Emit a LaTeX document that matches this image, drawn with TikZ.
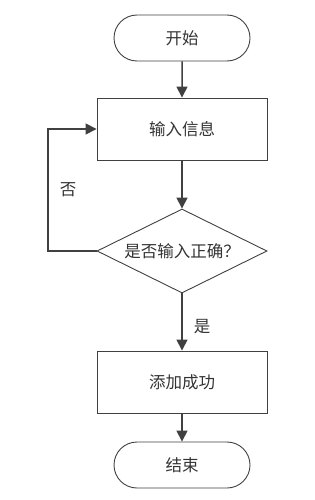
\documentclass[tikz,border=0pt]{standalone}
\usepackage{fontspec}
\newfontfamily\cjk{Noto Sans CJK SC}
\usepackage{xcolor}
\usepackage{tikz}
\usetikzlibrary{
  arrows.meta,
  positioning,
  shapes.geometric,
  shapes.misc
}
\definecolor{linegray}{RGB}{64, 64, 64}

\begin{document}
\begin{tikzpicture}[
  x=1pt, y=-1pt,
  term/.style={draw=linegray, rounded rectangle, line width=0.9pt,
               minimum width=136pt, minimum height=46pt, inner sep=0pt,
               font=\cjk\fontsize{16.5}{16.5}\selectfont, text=black!80},
  pbox/.style={draw=linegray, line width=0.9pt,
               minimum width=170pt, minimum height=62pt, inner sep=0pt,
               font=\cjk\fontsize{16.5}{16.5}\selectfont, text=black!80},
  dbox/.style={draw=linegray, diamond, aspect=2.02, line width=0.9pt,
               minimum width=170pt, minimum height=84pt, inner sep=0pt,
               font=\cjk\fontsize{16.5}{16.5}\selectfont, text=black!80},
  flow/.style={draw=linegray, line width=1.5pt,
               -{Triangle[length=11pt, width=11pt]}},
  lbl/.style={font=\cjk\fontsize{16.5}{16.5}\selectfont, text=black!80}
]
\useasboundingbox (0,0) rectangle (314,500);

% blocks
\node[term] (start) at (182, 38) {开始};
\node[pbox] (input) at (182, 129) {输入信息};
\node[dbox] (check) at (182, 251) {是否输入正确？};
\node[pbox] (added) at (182, 382) {添加成功};
\node[term] (stop)  at (182, 465) {结束};

% loop corner
\coordinate (lb) at (48, 251);
\coordinate (lt) at (48, 129);

% connectors
\draw[flow] (start) -- (input);
\draw[flow] (input) -- (check);
\draw[flow] (check) -- (added);
\draw[flow] (added) -- (stop);
\draw[flow] (check.west) -- (lb) -- (lt) -- (input.west);

% branch labels
\node[lbl] (no)  at (68, 190) {否};
\node[lbl] (yes) at (202, 327) {是};

\end{tikzpicture}
\end{document}
